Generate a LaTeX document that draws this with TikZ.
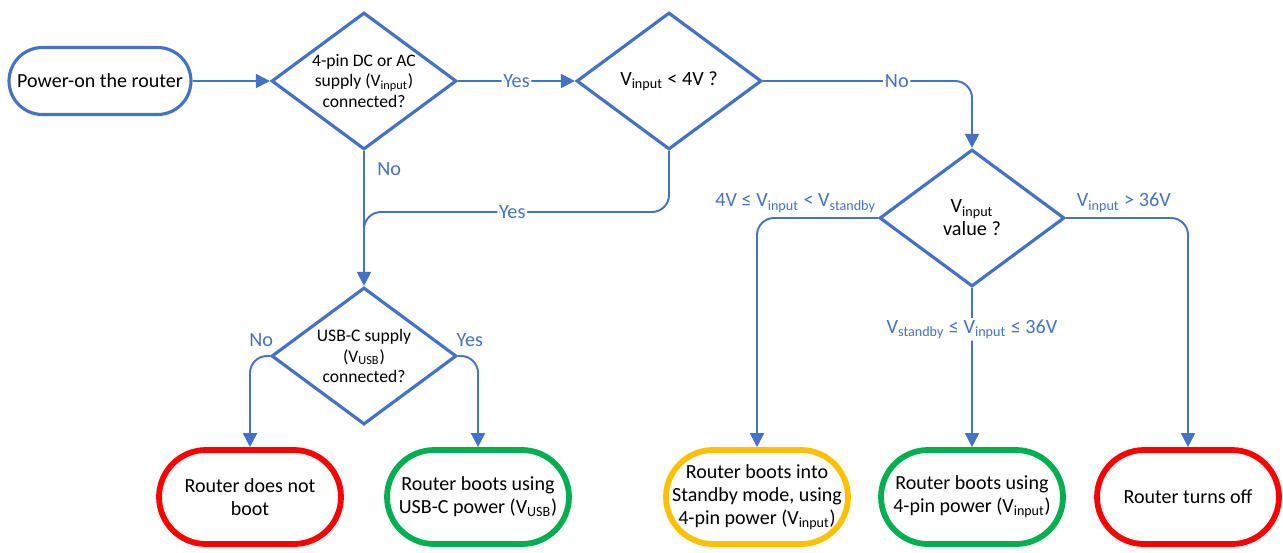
\documentclass[tikz,border=0pt]{standalone}
\usepackage{fontspec}
\setmainfont{Carlito}
\usetikzlibrary{arrows.meta, shapes.geometric}
\definecolor{flowblue}{HTML}{4472C4}
\definecolor{stopred}{HTML}{FF0000}
\definecolor{goodgreen}{HTML}{00B050}
\definecolor{waitamber}{HTML}{FFC000}
\newcommand{\Vin}{V\textsubscript{input}}
\newcommand{\Vusb}{V\textsubscript{USB}}
\newcommand{\Vsb}{V\textsubscript{standby}}

\begin{document}
\begin{tikzpicture}[
    x=0.02cm, y=-0.02cm,
    start/.style={draw=flowblue, line width=1.8pt, rounded corners=0.67cm, minimum width=3.64cm, minimum height=1.34cm, font=\fontsize{11.4}{13.2}\selectfont},
    term/.style={draw, line width=3.3pt, rounded corners=0.94cm, minimum width=3.64cm, minimum height=1.88cm, align=center, font=\fontsize{11.4}{13.2}\selectfont},
    decision/.style={draw=flowblue, line width=1.8pt, diamond, aspect=1.36, inner sep=0pt, minimum width=3.7cm, minimum height=2.74cm, align=center, font=\fontsize{10}{11.7}\selectfont},
    link/.style={draw=flowblue, line width=1.1pt, -{Triangle[length=2.8mm, width=2.8mm]}, rounded corners=0.34cm},
    lbl/.style={text=flowblue, font=\fontsize{11.5}{13}\selectfont, inner sep=1pt}
]
    \useasboundingbox (0,0) rectangle (1283,552);

    % top row
    \node[start] (power) at (100,81) {Power-on the router};
    \node[decision] (dcin) at (364,81) {4-pin DC or AC\\supply (\Vin)\\connected?};
    \node[decision, font=\fontsize{11.5}{13}\selectfont] (low) at (669,81) {\Vin{} < 4V ?};
    \node[decision, font=\fontsize{11.5}{13}\selectfont] (range) at (972,218) {\Vin\\value ?};
    \node[decision] (usbc) at (364,356) {USB-C supply\\(\Vusb)\\connected?};

    % outcomes
    \node[term, draw=stopred] (noboot) at (250,497) {Router does not\\boot};
    \node[term, draw=goodgreen] (usbboot) at (478,497) {Router boots using\\USB-C power (\Vusb)};
    \node[term, draw=waitamber] (standby) at (757,497) {Router boots into\\Standby mode, using\\4-pin power (\Vin)};
    \node[term, draw=goodgreen] (pinboot) at (972,497) {Router boots using\\4-pin power (\Vin)};
    \node[term, draw=stopred] (off) at (1188,497) {Router turns off};

    \coordinate (bend) at (364,212);
    \coordinate (merge) at (364,260);

    \draw[link] (power) -- (dcin);
    \draw[link] (dcin) -- node[lbl, fill=white] {Yes} (low);
    \draw[link] (dcin.south) -- node[lbl, right=6pt, pos=0.13] {No} (usbc.north);
    \draw[link, -] (low.south) |- node[lbl, fill=white, pos=0.757] {Yes} (bend) -- (merge);
    \draw[link] (low.east) -| node[lbl, fill=white, pos=0.32] {No} (range.north);

    \draw[link] (range.west) -| (standby.north);
    \node[lbl, anchor=south east] at ([yshift=2pt]range.west) {4V ≤ \Vin{} < \Vsb};
    \draw[link] (range.south) -- node[lbl, fill=white, pos=0.26] {\Vsb{} ≤ \Vin{} ≤ 36V} (pinboot.north);
    \draw[link] (range.east) -| (off.north);
    \node[lbl, anchor=south west] at ([xshift=5pt, yshift=2pt]range.east) {\Vin{} > 36V};

    \draw[link] (usbc.west) -| (noboot.north);
    \node[lbl, anchor=south east] at ([xshift=3pt, yshift=4pt]usbc.west) {No};
    \draw[link] (usbc.east) -| (usbboot.north);
    \node[lbl, anchor=south west] at ([xshift=-2pt, yshift=4pt]usbc.east) {Yes};
\end{tikzpicture}
\end{document}
